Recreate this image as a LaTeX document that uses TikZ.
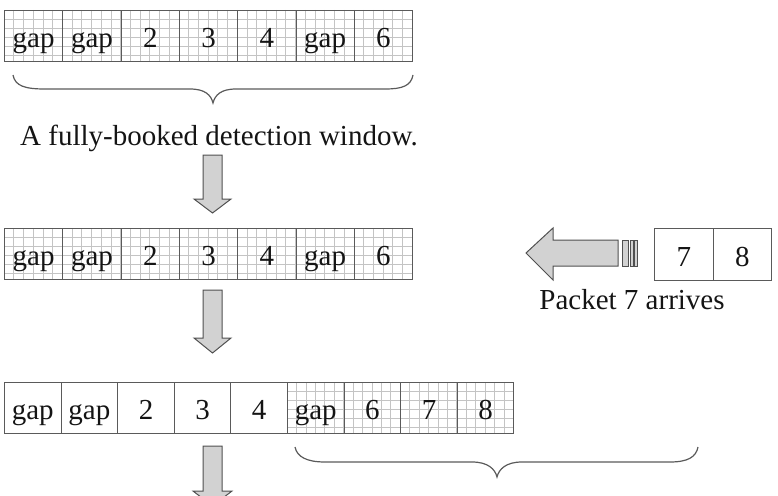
\documentclass[tikz,border=0pt]{standalone}
\usepackage{fontspec}
\setmainfont{Liberation Serif}
\definecolor{cellline}{HTML}{5A5A5A}
\definecolor{gridgray}{HTML}{C4C4C4}
\definecolor{arrowfill}{HTML}{D2D2D2}
\definecolor{arrowline}{HTML}{505050}
\definecolor{txt}{HTML}{141414}
\begin{document}
\begin{tikzpicture}[x=1pt,y=-1pt,
  every node/.style={font=\fontsize{29}{32}\selectfont, text=txt},
  cell/.style={draw=cellline, line width=1pt, minimum height=51pt, inner sep=0pt,
    anchor=north west, text height=23pt, text depth=0pt},
  gridline/.style={draw=gridgray, line width=0.6pt},
  blockarrow/.style={fill=arrowfill, draw=arrowline, line width=1pt, line join=miter},
  bracepath/.style={draw=cellline, line width=1.2pt}]
\useasboundingbox (0,0) rectangle (778,495);
\clip (0,0) rectangle (778,495);

% ---------- row 1 grid ----------
\foreach \k in {1,...,41} \draw[gridline] ({4+\k*9.717},10) -- ({4+\k*9.717},61);
\foreach \k in {1,...,5} \draw[gridline] (4,{10+\k*9.0}) -- (412,{10+\k*9.0});
\foreach \t [count=\i] in {gap,gap,2,3,4,gap,6}
  \node[cell, minimum width=58.3pt] (a\i) at ({4+(\i-1)*58.3},10) {\t};

% brace 1
\draw[bracepath] (13,75) .. controls (15,86) and (25,89) .. (45,89) -- (190,89)
  .. controls (205,89) and (211,95) .. (213,103)
  .. controls (215,95) and (221,89) .. (236,89) -- (385,89)
  .. controls (402,89) and (411,86) .. (413,75);
\node[anchor=base] (cap1) at (219,145) {A fully-booked detection window.};

% down arrow 1
\draw[blockarrow] (203,155) -- (222,155) -- (222,199) -- (231,199) -- (212.5,213)
  -- (194,199) -- (203,199) -- cycle;

% ---------- row 2 ----------
\foreach \k in {1,...,41} \draw[gridline] ({4+\k*9.717},228) -- ({4+\k*9.717},279);
\foreach \k in {1,...,5} \draw[gridline] (4,{228+\k*9.0}) -- (412,{228+\k*9.0});
\foreach \t [count=\i] in {gap,gap,2,3,4,gap,6}
  \node[cell, minimum width=58.3pt] (b\i) at ({4+(\i-1)*58.3},228) {\t};

% incoming packet
\node[cell, minimum width=58.5pt, minimum height=52pt] (p7) at (654,228) {7};
\node[cell, minimum width=58.5pt, minimum height=52pt] (p8) at (712.5,228) {8};
\node[anchor=base] (cap2) at (632,309) {Packet 7 arrives};

% striped left arrow
\draw[blockarrow] (526,253) -- (553,228) -- (553,240) -- (618,240) -- (618,266)
  -- (553,266) -- (553,280) -- cycle;
\draw[blockarrow] (622,240) rectangle (628,266);
\draw[blockarrow] (630,240) rectangle (633,266);
\draw[blockarrow] (634,240) rectangle (637,266);

% down arrow 2
\draw[blockarrow] (203,290) -- (222,290) -- (222,338) -- (231,338) -- (212.5,353)
  -- (194,338) -- (203,338) -- cycle;

% ---------- row 3 ----------
\foreach \k in {1,...,23} \draw[gridline] ({287+\k*9.43},382) -- ({287+\k*9.43},433);
\foreach \k in {1,...,5} \draw[gridline] (287,{382+\k*9.0}) -- (513,{382+\k*9.0});
\foreach \t [count=\i] in {gap,gap,2,3,4,gap,6,7,8}
  \node[cell, minimum width=56.6pt] (c\i) at ({4+(\i-1)*56.6},382) {\t};

% brace 2
\draw[bracepath] (295,447) .. controls (297,457) and (307,462) .. (325,462) -- (472,462)
  .. controls (488,462) and (495,469) .. (497,477)
  .. controls (499,469) and (506,462) .. (522,462) -- (670,462)
  .. controls (688,462) and (696,457) .. (698,447);

% down arrow 3
\draw[blockarrow] (203,446) -- (222,446) -- (222,491) -- (232,491) -- (212.5,506)
  -- (193,491) -- (203,491) -- cycle;
\end{tikzpicture}
\end{document}
